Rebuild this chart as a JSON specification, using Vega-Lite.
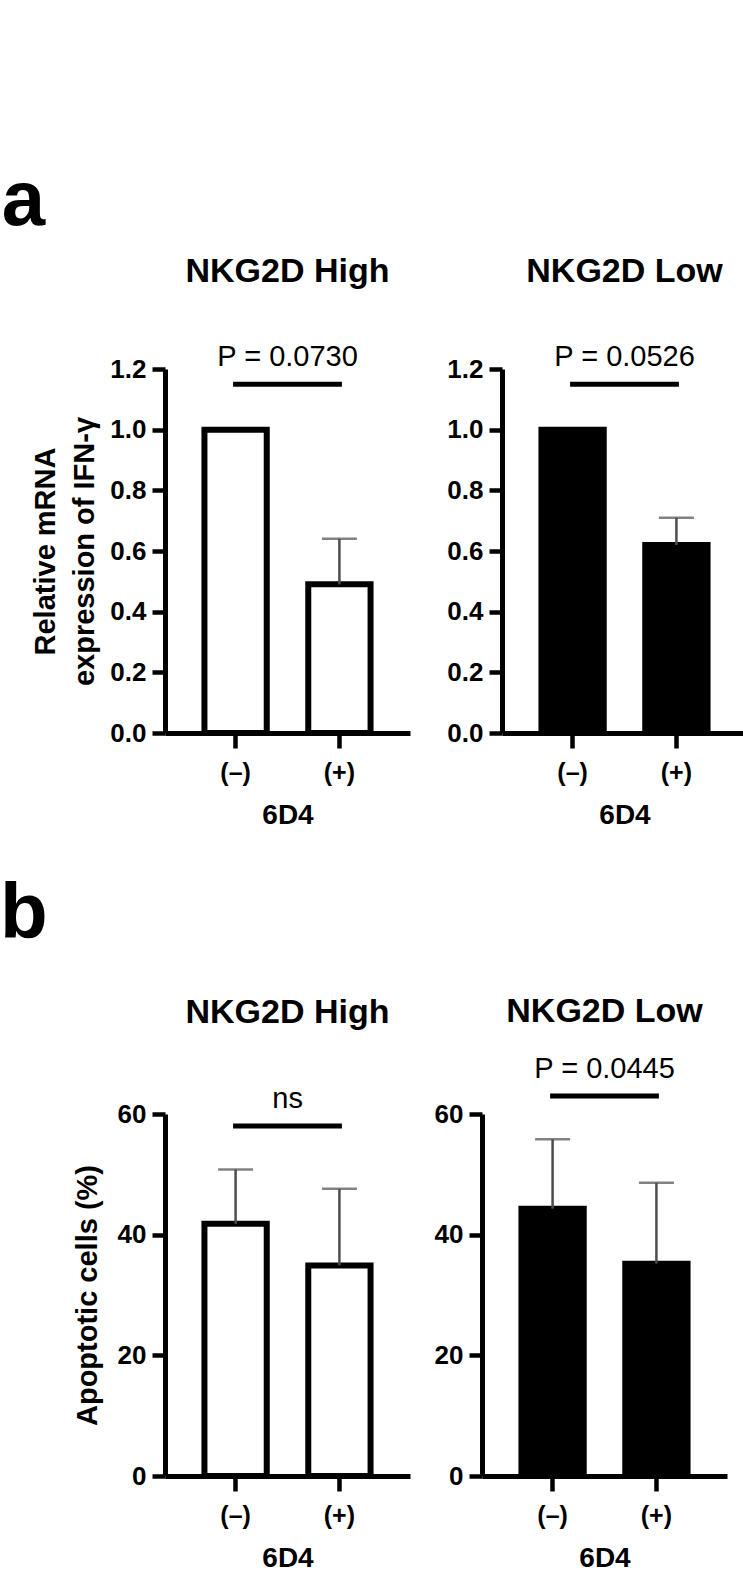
{
  "$schema": "https://vega.github.io/schema/vega-lite/v6.json",
  "background": "white",
  "padding": {"left": 0, "top": 162, "right": 0, "bottom": 0},
  "config": {
    "font": "Liberation Sans",
    "view": {"stroke": null},
    "axis": {"grid": false, "domainColor": "black", "domainWidth": 5, "tickColor": "black", "tickWidth": 4.5, "labelColor": "black", "titleColor": "black", "labelFont": "Liberation Sans", "titleFont": "Liberation Sans", "labelFontWeight": "bold", "titleFontWeight": "bold"},
    "axisY": {"tickSize": 13, "labelPadding": 6, "labelFontSize": 26, "titleFontSize": 29},
    "axisX": {"tickSize": 15, "labelPadding": 12, "labelFontSize": 25, "titleFontSize": 28, "titlePadding": 16, "labelAngle": 0, "bandPosition": 0.5},
    "title": {"font": "Liberation Sans", "fontSize": 34, "fontWeight": "bold", "color": "black", "baseline": "alphabetic", "frame": "group", "anchor": "middle"}
  },
  "datasets": {
    "ifn": [
      {"cells": "NKG2D High", "condition": "(–)", "mean": 1.0, "upper": null},
      {"cells": "NKG2D High", "condition": "(+)", "mean": 0.49, "upper": 0.64},
      {"cells": "NKG2D Low", "condition": "(–)", "mean": 1.0, "upper": null},
      {"cells": "NKG2D Low", "condition": "(+)", "mean": 0.62, "upper": 0.71}
    ],
    "apop": [
      {"cells": "NKG2D High", "condition": "(–)", "mean": 41.8, "upper": 50.8},
      {"cells": "NKG2D High", "condition": "(+)", "mean": 34.9, "upper": 47.6},
      {"cells": "NKG2D Low", "condition": "(–)", "mean": 44.3, "upper": 55.8},
      {"cells": "NKG2D Low", "condition": "(+)", "mean": 35.2, "upper": 48.6}
    ],
    "sig": [
      {"assay": "IFN", "cells": "NKG2D High", "from": "(–)", "to": "(+)", "y": 1.15, "label": "P = 0.0730"},
      {"assay": "IFN", "cells": "NKG2D Low", "from": "(–)", "to": "(+)", "y": 1.15, "label": "P = 0.0526"},
      {"assay": "Apoptosis", "cells": "NKG2D High", "from": "(–)", "to": "(+)", "y": 58, "label": "ns"},
      {"assay": "Apoptosis", "cells": "NKG2D Low", "from": "(–)", "to": "(+)", "y": 63, "label": "P = 0.0445"}
    ]
  },
  "spacing": 46,
  "vconcat": [
    {
      "title": {"text": "a", "anchor": "start", "frame": "bounds", "fontSize": 78, "offset": 14.5, "dx": -30},
      "spacing": 36,
      "hconcat": [
        {
          "width": 245, "height": 364,
          "title": {"text": "NKG2D High", "offset": 54},
          "layer": [
            {
              "data": {"name": "ifn"},
              "transform": [{"filter": "datum.cells === 'NKG2D High'"}],
              "mark": {"type": "bar", "fill": "white", "stroke": "black", "strokeWidth": 6},
              "encoding": {
                "x": {"field": "condition", "type": "nominal", "title": "6D4", "scale": {"type": "band", "domain": ["(–)", "(+)"], "paddingInner": 0.4, "paddingOuter": 0.38}},
                "y": {"field": "mean", "type": "quantitative", "title": ["Relative mRNA", "expression of IFN-γ"], "scale": {"domain": [0, 1.2], "nice": false}, "axis": {"values": [0, 0.2, 0.4, 0.6, 0.8, 1, 1.2], "format": ".1f", "titlePadding": 10, "titleLineHeight": 39}}
              }
            },
            {
              "data": {"name": "ifn"},
              "transform": [{"filter": "datum.cells === 'NKG2D High' && datum.upper != null"}],
              "mark": {"type": "rule", "color": "#4d4d4d", "strokeWidth": 2.5},
              "encoding": {
                "x": {"field": "condition", "type": "nominal", "title": "6D4"},
                "y": {"field": "mean", "type": "quantitative", "title": ["Relative mRNA", "expression of IFN-γ"]},
                "y2": {"field": "upper"}
              }
            },
            {
              "data": {"name": "ifn"},
              "transform": [{"filter": "datum.cells === 'NKG2D High' && datum.upper != null"}],
              "mark": {"type": "tick", "color": "#4d4d4d", "thickness": 2.5, "size": 35},
              "encoding": {
                "x": {"field": "condition", "type": "nominal", "title": "6D4"},
                "y": {"field": "upper", "type": "quantitative", "title": ["Relative mRNA", "expression of IFN-γ"]}
              }
            },
            {
              "data": {"name": "sig"},
              "transform": [{"filter": "datum.assay === 'IFN' && datum.cells === 'NKG2D High'"}],
              "mark": {"type": "rule", "color": "black", "strokeWidth": 5, "strokeCap": "square"},
              "encoding": {
                "x": {"field": "from", "type": "nominal", "title": "6D4"},
                "x2": {"field": "to"},
                "y": {"field": "y", "type": "quantitative", "title": ["Relative mRNA", "expression of IFN-γ"]}
              }
            },
            {
              "data": {"name": "sig"},
              "transform": [{"filter": "datum.assay === 'IFN' && datum.cells === 'NKG2D High'"}],
              "mark": {"type": "text", "fontSize": 29, "fontWeight": "normal", "color": "black", "align": "center", "baseline": "alphabetic", "dx": 52, "dy": -18},
              "encoding": {
                "x": {"field": "from", "type": "nominal", "title": "6D4"},
                "y": {"field": "y", "type": "quantitative", "title": ["Relative mRNA", "expression of IFN-γ"]},
                "text": {"field": "label"}
              }
            }
          ]
        },
        {
          "width": 245, "height": 364,
          "title": {"text": "NKG2D Low", "offset": 54},
          "layer": [
            {
              "data": {"name": "ifn"},
              "transform": [{"filter": "datum.cells === 'NKG2D Low'"}],
              "mark": {"type": "bar", "fill": "black", "stroke": "black", "strokeWidth": 6},
              "encoding": {
                "x": {"field": "condition", "type": "nominal", "title": "6D4", "scale": {"type": "band", "domain": ["(–)", "(+)"], "paddingInner": 0.4, "paddingOuter": 0.38}},
                "y": {"field": "mean", "type": "quantitative", "title": null, "scale": {"domain": [0, 1.2], "nice": false}, "axis": {"values": [0, 0.2, 0.4, 0.6, 0.8, 1, 1.2], "format": ".1f"}}
              }
            },
            {
              "data": {"name": "ifn"},
              "transform": [{"filter": "datum.cells === 'NKG2D Low' && datum.upper != null"}],
              "mark": {"type": "rule", "color": "#4d4d4d", "strokeWidth": 2.5},
              "encoding": {
                "x": {"field": "condition", "type": "nominal", "title": "6D4"},
                "y": {"field": "mean", "type": "quantitative", "title": null},
                "y2": {"field": "upper"}
              }
            },
            {
              "data": {"name": "ifn"},
              "transform": [{"filter": "datum.cells === 'NKG2D Low' && datum.upper != null"}],
              "mark": {"type": "tick", "color": "#4d4d4d", "thickness": 2.5, "size": 35},
              "encoding": {
                "x": {"field": "condition", "type": "nominal", "title": "6D4"},
                "y": {"field": "upper", "type": "quantitative", "title": null}
              }
            },
            {
              "data": {"name": "sig"},
              "transform": [{"filter": "datum.assay === 'IFN' && datum.cells === 'NKG2D Low'"}],
              "mark": {"type": "rule", "color": "black", "strokeWidth": 5, "strokeCap": "square"},
              "encoding": {
                "x": {"field": "from", "type": "nominal", "title": "6D4"},
                "x2": {"field": "to"},
                "y": {"field": "y", "type": "quantitative", "title": null}
              }
            },
            {
              "data": {"name": "sig"},
              "transform": [{"filter": "datum.assay === 'IFN' && datum.cells === 'NKG2D Low'"}],
              "mark": {"type": "text", "fontSize": 29, "fontWeight": "normal", "color": "black", "align": "center", "baseline": "alphabetic", "dx": 52, "dy": -18},
              "encoding": {
                "x": {"field": "from", "type": "nominal", "title": "6D4"},
                "y": {"field": "y", "type": "quantitative", "title": null},
                "text": {"field": "label"}
              }
            }
          ]
        }
      ]
    },
    {
      "title": {"text": "b", "anchor": "start", "frame": "bounds", "fontSize": 78, "offset": 41, "dx": -73},
      "spacing": 24,
      "hconcat": [
        {
          "width": 245, "height": 362,
          "title": {"text": "NKG2D High", "offset": 55},
          "layer": [
            {
              "data": {"name": "apop"},
              "transform": [{"filter": "datum.cells === 'NKG2D High'"}],
              "mark": {"type": "bar", "fill": "white", "stroke": "black", "strokeWidth": 6},
              "encoding": {
                "x": {"field": "condition", "type": "nominal", "title": "6D4", "scale": {"type": "band", "domain": ["(–)", "(+)"], "paddingInner": 0.4, "paddingOuter": 0.38}},
                "y": {"field": "mean", "type": "quantitative", "title": "Apoptotic cells (%)", "scale": {"domain": [0, 60], "nice": false}, "axis": {"values": [0, 20, 40, 60], "format": "d", "titlePadding": 15}}
              }
            },
            {
              "data": {"name": "apop"},
              "transform": [{"filter": "datum.cells === 'NKG2D High'"}],
              "mark": {"type": "rule", "color": "#4d4d4d", "strokeWidth": 2.5},
              "encoding": {
                "x": {"field": "condition", "type": "nominal", "title": "6D4"},
                "y": {"field": "mean", "type": "quantitative", "title": "Apoptotic cells (%)"},
                "y2": {"field": "upper"}
              }
            },
            {
              "data": {"name": "apop"},
              "transform": [{"filter": "datum.cells === 'NKG2D High'"}],
              "mark": {"type": "tick", "color": "#4d4d4d", "thickness": 2.5, "size": 35},
              "encoding": {
                "x": {"field": "condition", "type": "nominal", "title": "6D4"},
                "y": {"field": "upper", "type": "quantitative", "title": "Apoptotic cells (%)"}
              }
            },
            {
              "data": {"name": "sig"},
              "transform": [{"filter": "datum.assay === 'Apoptosis' && datum.cells === 'NKG2D High'"}],
              "mark": {"type": "rule", "color": "black", "strokeWidth": 5, "strokeCap": "square"},
              "encoding": {
                "x": {"field": "from", "type": "nominal", "title": "6D4"},
                "x2": {"field": "to"},
                "y": {"field": "y", "type": "quantitative", "title": "Apoptotic cells (%)"}
              }
            },
            {
              "data": {"name": "sig"},
              "transform": [{"filter": "datum.assay === 'Apoptosis' && datum.cells === 'NKG2D High'"}],
              "mark": {"type": "text", "fontSize": 29, "fontWeight": "normal", "color": "black", "align": "center", "baseline": "alphabetic", "dx": 52, "dy": -18},
              "encoding": {
                "x": {"field": "from", "type": "nominal", "title": "6D4"},
                "y": {"field": "y", "type": "quantitative", "title": "Apoptotic cells (%)"},
                "text": {"field": "label"}
              }
            }
          ]
        },
        {
          "width": 245, "height": 362,
          "title": {"text": "NKG2D Low", "offset": 26},
          "layer": [
            {
              "data": {"name": "apop"},
              "transform": [{"filter": "datum.cells === 'NKG2D Low'"}],
              "mark": {"type": "bar", "fill": "black", "stroke": "black", "strokeWidth": 6},
              "encoding": {
                "x": {"field": "condition", "type": "nominal", "title": "6D4", "scale": {"type": "band", "domain": ["(–)", "(+)"], "paddingInner": 0.4, "paddingOuter": 0.38}},
                "y": {"field": "mean", "type": "quantitative", "title": null, "scale": {"domain": [0, 60], "nice": false}, "axis": {"values": [0, 20, 40, 60], "format": "d"}}
              }
            },
            {
              "data": {"name": "apop"},
              "transform": [{"filter": "datum.cells === 'NKG2D Low'"}],
              "mark": {"type": "rule", "color": "#4d4d4d", "strokeWidth": 2.5},
              "encoding": {
                "x": {"field": "condition", "type": "nominal", "title": "6D4"},
                "y": {"field": "mean", "type": "quantitative", "title": null},
                "y2": {"field": "upper"}
              }
            },
            {
              "data": {"name": "apop"},
              "transform": [{"filter": "datum.cells === 'NKG2D Low'"}],
              "mark": {"type": "tick", "color": "#4d4d4d", "thickness": 2.5, "size": 35},
              "encoding": {
                "x": {"field": "condition", "type": "nominal", "title": "6D4"},
                "y": {"field": "upper", "type": "quantitative", "title": null}
              }
            },
            {
              "data": {"name": "sig"},
              "transform": [{"filter": "datum.assay === 'Apoptosis' && datum.cells === 'NKG2D Low'"}],
              "mark": {"type": "rule", "color": "black", "strokeWidth": 5, "strokeCap": "square"},
              "encoding": {
                "x": {"field": "from", "type": "nominal", "title": "6D4"},
                "x2": {"field": "to"},
                "y": {"field": "y", "type": "quantitative", "title": null}
              }
            },
            {
              "data": {"name": "sig"},
              "transform": [{"filter": "datum.assay === 'Apoptosis' && datum.cells === 'NKG2D Low'"}],
              "mark": {"type": "text", "fontSize": 29, "fontWeight": "normal", "color": "black", "align": "center", "baseline": "alphabetic", "dx": 52, "dy": -18},
              "encoding": {
                "x": {"field": "from", "type": "nominal", "title": "6D4"},
                "y": {"field": "y", "type": "quantitative", "title": null},
                "text": {"field": "label"}
              }
            }
          ]
        }
      ]
    }
  ]
}
